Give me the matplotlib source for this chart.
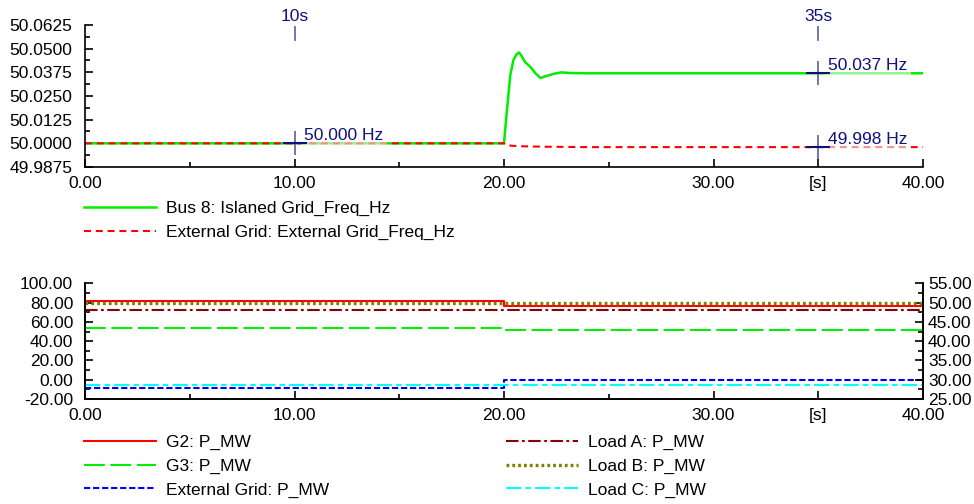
import matplotlib
matplotlib.use("Agg")
import matplotlib.pyplot as plt
from matplotlib.lines import Line2D
from matplotlib.ticker import FixedLocator, AutoMinorLocator

plt.rcParams['font.family'] = ['Liberation Sans', 'DejaVu Sans']
plt.rcParams['font.size'] = 12.5
plt.rcParams['lines.scale_dashes'] = False

# ---- frequency traces (Hz) ----
t_freq_island = [0.0, 20.0, 20.12, 20.3, 20.45, 20.6, 20.72, 20.85, 21.0, 21.25,
                 21.5, 21.75, 22.0, 22.4, 22.75, 23.2, 24.0, 40.0]
f_island = [50.0, 50.0, 50.015, 50.036, 50.044, 50.047, 50.048, 50.046, 50.043, 50.0405,
            50.037, 50.0345, 50.0355, 50.0368, 50.0375, 50.0371, 50.037, 50.037]
t_freq_ext = [0.0, 20.0, 20.1, 20.4, 21.0, 22.0, 24.0, 40.0]
f_ext = [50.0, 50.0, 49.9991, 49.9987, 49.9984, 49.9982, 49.998, 49.998]

# cursor readouts
cursor_times = [10, 35]
cursor_values = {10: [50.000], 35: [50.037, 49.998]}

# ---- active power (MW) ----
t_g2 = [0.0, 20.0, 21.7, 40.0]
p_g2 = [82.0, 76.3, 76.8, 76.8]
t_g3 = [0.0, 20.0, 20.8, 40.0]
p_g3 = [54.0, 51.2, 51.6, 51.6]
t_ext = [0.0, 20.0, 40.0]
p_ext = [-9.0, 0.0, 0.0]
t_load = [0.0, 40.0]
p_load_a = [48.1, 48.1]
p_load_b = [50.0, 50.0]
p_load_c = [28.7, 28.7]

x_ticks = [0, 10, 20, 30, 35, 40]
x_ticklabels = ['0.00', '10.00', '20.00', '30.00', '[s]', '40.00']
x_minor = [5, 15, 25]
f_ticks = [49.9875, 50.0, 50.0125, 50.025, 50.0375, 50.05, 50.0625]
p_left_ticks = [-20, 0, 20, 40, 60, 80, 100]
p_right_ticks = [25, 30, 35, 40, 45, 50, 55]

W, H = 974, 504
fig = plt.figure(figsize=(W / 100, H / 100), dpi=100)

def axrect(x0, x1, ytop, ybot):
    return [x0 / W, 1 - ybot / H, (x1 - x0) / W, (ybot - ytop) / H]

ax1 = fig.add_axes(axrect(85, 923, 25, 167))
ax2 = fig.add_axes(axrect(85, 923, 283.3, 399))
ax2r = ax2.twinx()

navy = '#10107a'
cursor_col = '#6a6aa8'

# ---- top: frequency ----
ax1.plot(t_freq_island, f_island, color='#00ee00', lw=1.8, solid_joinstyle='round')
ax1.plot(t_freq_ext, f_ext, color='#ff0000', lw=1.5, dashes=(5, 3.5))
ax1.set_xlim(0, 40)
ax1.set_ylim(49.9875, 50.0625)

for sp in ['top', 'right']:
    ax1.spines[sp].set_visible(False)

def style_x(ax):
    ax.xaxis.set_major_locator(FixedLocator(x_ticks))
    ax.set_xticklabels(x_ticklabels)
    ax.xaxis.set_minor_locator(FixedLocator(x_minor))

style_x(ax1)
ax1.yaxis.set_major_locator(FixedLocator(f_ticks))
ax1.set_yticklabels([f'{v:.4f}' for v in f_ticks])
ax1.yaxis.set_minor_locator(AutoMinorLocator(2))

for ax in (ax1, ax2, ax2r):
    for sp in ax.spines.values():
        sp.set_linewidth(1.2)
    ax.tick_params(which='both', direction='in', width=1.2, colors='black')
    ax.tick_params(which='major', length=6)
    ax.tick_params(which='minor', length=3.5)

ax1.tick_params(axis='y', pad=9)
ax1.tick_params(axis='x', pad=6.5)

# cursors
xt = ax1.get_xaxis_transform()
for tc in cursor_times:
    ax1.plot([tc, tc], [0.894, 0.986], transform=xt, color=cursor_col, lw=1.3, clip_on=False)
    ax1.text(tc, 1.06, f'{tc}s', transform=xt, ha='center', va='center', color=navy)
    for v in cursor_values[tc]:
        ax1.plot(tc, v, marker='|', ms=17, mew=1.3, color=cursor_col, zorder=5)
        ax1.plot(tc, v, marker='_', ms=17, mew=1.5, color=navy, zorder=5)
        ax1.annotate(f'{v:.3f} Hz', xy=(tc, v), xytext=(7, 0), textcoords='offset points',
                     ha='left', va='bottom', color=navy, zorder=4,
                     bbox=dict(boxstyle='square,pad=0.2', fc='white', ec='none', alpha=0.55))

# ---- bottom: active power ----
style_g2 = dict(color='#ff0000', lw=1.5)
style_g3 = dict(color='#00ee00', lw=1.5, dashes=(15, 4))
style_ext = dict(color='#0000ee', lw=1.5, dashes=(4.5, 2))
style_la = dict(color='#8b0000', lw=1.5, dashes=(9, 2.5, 2, 2.5))
style_lb = dict(color='#808000', lw=2.4, dashes=(2, 2.2))
style_lc = dict(color='#00ffff', lw=1.5, dashes=(11, 3, 4, 3))

ax2.plot(t_g3, p_g3, drawstyle='steps-post', **style_g3)
ax2.plot(t_ext, p_ext, drawstyle='steps-post', **style_ext)
ax2.plot(t_g2, p_g2, drawstyle='steps-post', **style_g2)
ax2r.plot(t_load, p_load_c, **style_lc)
ax2r.plot(t_load, p_load_a, **style_la)
ax2r.plot(t_load, p_load_b, **style_lb)

ax2.set_xlim(0, 40)
ax2.set_ylim(-20, 100)
ax2r.set_ylim(25, 55)
ax2.spines['top'].set_visible(False)
ax2r.spines['top'].set_visible(False)
style_x(ax2)
ax2.yaxis.set_major_locator(FixedLocator(p_left_ticks))
ax2.set_yticklabels([f'{v:.2f}' for v in p_left_ticks])
ax2.yaxis.set_minor_locator(AutoMinorLocator(2))
ax2r.yaxis.set_major_locator(FixedLocator(p_right_ticks))
ax2r.set_yticklabels([f'{v:.2f}' for v in p_right_ticks])
ax2r.yaxis.set_minor_locator(AutoMinorLocator(2))
ax2.tick_params(axis='y', pad=8.5)
ax2r.tick_params(axis='y', pad=3.5)
ax2.tick_params(axis='x', pad=6.5)

# ---- legends ----
leg_kw = dict(frameon=False, borderpad=0, borderaxespad=0, handlelength=4.15,
              handletextpad=0.57, labelspacing=0.48, loc='upper left')

h_top = [Line2D([], [], color='#00ee00', lw=1.8),
         Line2D([], [], color='#ff0000', lw=1.5, dashes=(5, 3.5))]
fig.legend(h_top, ['Bus 8: Islaned Grid_Freq_Hz', 'External Grid: External Grid_Freq_Hz'],
           bbox_to_anchor=(84 / W, 1 - 201 / H), **leg_kw)

h_left = [Line2D([], [], **style_g2), Line2D([], [], **style_g3), Line2D([], [], **style_ext)]
fig.legend(h_left, ['G2: P_MW', 'G3: P_MW', 'External Grid: P_MW'],
           bbox_to_anchor=(84 / W, 1 - 435 / H), **leg_kw)
h_right = [Line2D([], [], **style_la), Line2D([], [], **style_lb), Line2D([], [], **style_lc)]
fig.legend(h_right, ['Load A: P_MW', 'Load B: P_MW', 'Load C: P_MW'],
           bbox_to_anchor=(506 / W, 1 - 435 / H), **leg_kw)

fig.savefig('out.png', dpi=100)
